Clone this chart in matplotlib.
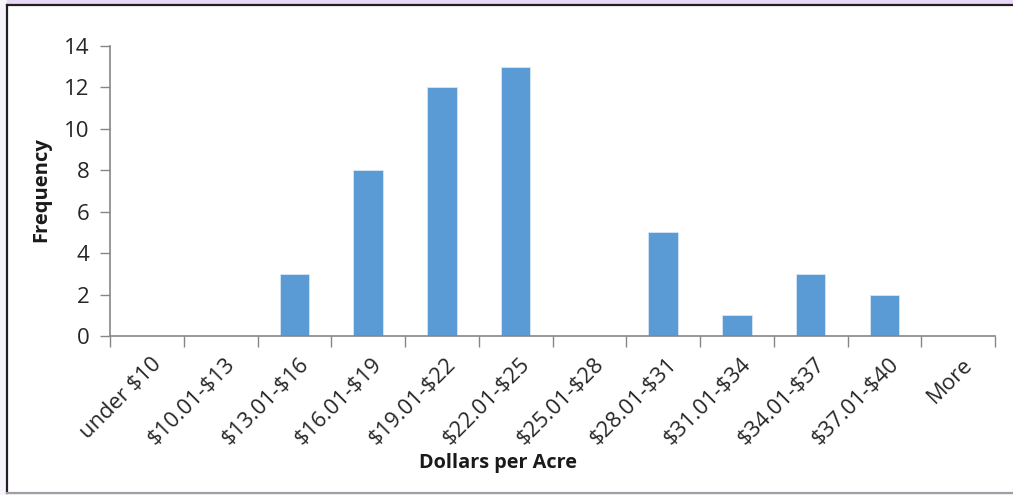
import matplotlib
matplotlib.use("Agg")
import matplotlib.pyplot as plt
from matplotlib.patches import Rectangle
from matplotlib.lines import Line2D
import numpy as np

# histogram bins and counts
bins = ["under $10", "$10.01-$13", "$13.01-$16", "$16.01-$19", "$19.01-$22",
        "$22.01-$25", "$25.01-$28", "$28.01-$31", "$31.01-$34", "$34.01-$37",
        "$37.01-$40", "More"]
freq = [0, 0, 3, 8, 12, 13, 0, 5, 1, 3, 2, 0]
yticks = [0, 2, 4, 6, 8, 10, 12, 14]

plt.rcParams['font.family'] = ['Open Sans', 'DejaVu Sans']
plt.rcParams['text.parse_math'] = False  # dollar signs are literal

W, H = 1013, 495
fig = plt.figure(figsize=(W / 100, H / 100), dpi=100)
fig.patch.set_facecolor('#f8f4fc')

# chart area frame
fig.patches.append(Rectangle((7 / W, 1 - 493 / H), 1.0, (493 - 5) / H,
                             transform=fig.transFigure, facecolor='white',
                             edgecolor='none', zorder=-2))
fig.patches.append(Rectangle((7 / W, 1 - 4 / H), 1.0, 4 / H, transform=fig.transFigure,
                             facecolor='#e6d8f6', edgecolor='none', zorder=-2))
fig.lines.append(Line2D([7 / W, 1.0], [1 - 5 / H, 1 - 5 / H], transform=fig.transFigure,
                        color='#202020', linewidth=1.6, zorder=-1))
fig.lines.append(Line2D([7 / W, 7 / W], [1 - 5 / H, 1 - 493 / H], transform=fig.transFigure,
                        color='#202020', linewidth=1.6, zorder=-1))
fig.lines.append(Line2D([7 / W, 1.0], [1 - 493 / H, 1 - 493 / H], transform=fig.transFigure,
                        color='#a0a0a0', linewidth=1.6, zorder=-1))

ax = fig.add_axes([110 / W, 1 - 336 / H, (995 - 110) / W, (336 - 46) / H])
ax.set_facecolor('none')
ax.set_zorder(1)

x = np.arange(len(bins))
ax.bar(x, freq, width=0.4, color='#5b9bd5', edgecolor='#d8e6f4', linewidth=0.6, zorder=2)

ax.set_xlim(-0.5, len(bins) - 0.5)
ax.set_ylim(0, 14)
ax.set_yticks(yticks)
ax.tick_params(axis='y', direction='out', length=7, width=1, color='#868686',
               labelsize=16, pad=8, labelcolor='#262626')

# category boundaries carry the tick marks, labels sit at the centres
ax.set_xticks(np.arange(-0.5, len(bins)), minor=False)
ax.set_xticklabels([])
ax.set_xticks(x + 0.05, minor=True)
ax.set_xticklabels(bins, minor=True, rotation=45, ha='right', va='top',
                   rotation_mode='anchor', fontsize=15.8, color='#262626')
ax.tick_params(axis='x', which='major', direction='out', length=8, width=1, color='#868686')
ax.tick_params(axis='x', which='minor', length=0, pad=13)

for s in ['top', 'right']:
    ax.spines[s].set_visible(False)
for s in ['left', 'bottom']:
    ax.spines[s].set_color('#868686')
    ax.spines[s].set_linewidth(1.2)

fig.text(498 / W, 1 - 463 / H, "Dollars per Acre", ha='center', va='center',
         fontsize=14.3, fontweight='bold', color='#1a1a1a')
fig.text(41 / W, 1 - 190 / H, "Frequency", ha='center', va='center', rotation=90,
         fontsize=14.5, fontweight='bold', color='#1a1a1a')

fig.savefig("out.png", dpi=100, facecolor=fig.get_facecolor())
